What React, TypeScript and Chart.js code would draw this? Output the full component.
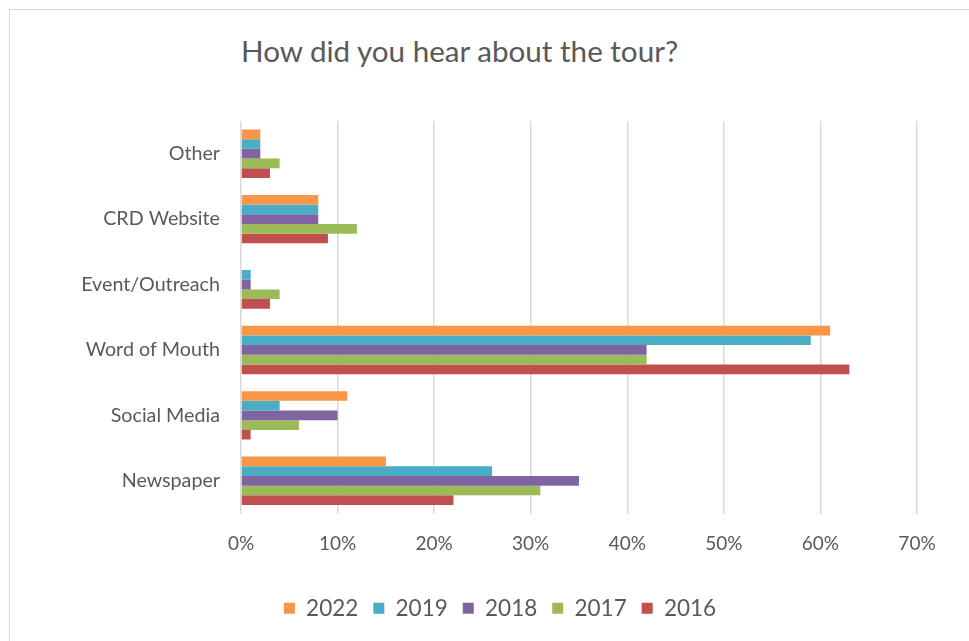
import React, { useEffect, useRef } from "react";
import { Chart, registerables } from "chart.js";

Chart.register(...registerables);

const categories = ["Other", "CRD Website", "Event/Outreach", "Word of Mouth", "Social Media", "Newspaper"];
const seriesNames = ["2022", "2019", "2018", "2017", "2016"];
const values2022 = [2, 8, 0, 61, 11, 15];
const values2019 = [2, 8, 1, 59, 4, 26];
const values2018 = [2, 8, 1, 42, 10, 35];
const values2017 = [4, 12, 4, 42, 6, 31];
const values2016 = [3, 9, 3, 63, 1, 22];
const seriesColors = ["#F79646", "#4BACC6", "#8064A2", "#9BBB59", "#C0504D"];
const xTicks = [0, 10, 20, 30, 40, 50, 60, 70];
const titleText = "How did you hear about the tour?";

const FONT = "Lato, 'Open Sans', sans-serif";
const TEXT = "#595959";

export default function App() {
  const canvasRef = useRef<HTMLCanvasElement | null>(null);

  useEffect(() => {
    document.body.style.margin = "0";
    const canvas = canvasRef.current;
    if (!canvas) return;
    const allValues = [values2022, values2019, values2018, values2017, values2016];
    const chart = new Chart(canvas, {
      type: "bar",
      data: {
        labels: categories,
        datasets: seriesNames.map((name, i) => ({
          label: name,
          data: allValues[i],
          backgroundColor: seriesColors[i],
          borderWidth: 0,
          categoryPercentage: 0.74,
          barPercentage: 1.0,
        })),
      },
      options: {
        indexAxis: "y",
        animation: false,
        responsive: false,
        maintainAspectRatio: false,
        devicePixelRatio: 1,
        layout: { padding: { left: 83, right: 52, top: 121, bottom: 11.5 } },
        scales: {
          x: {
            min: 0,
            max: 70,
            afterBuildTicks: (scale: any) => {
              scale.ticks = xTicks.map((v) => ({ value: v }));
            },
            afterFit: (scale: any) => {
              scale.height = 68.5;
            },
            border: { display: false },
            grid: { color: "#D9D9D9", lineWidth: 1.5, drawTicks: false },
            ticks: {
              padding: 19,
              color: TEXT,
              font: { family: FONT, size: 19 },
              callback: (v: any) => v + "%",
            },
          },
          y: {
            afterFit: (scale: any) => {
              scale.width = 158;
            },
            border: { display: false },
            grid: { display: false, drawTicks: false },
            ticks: {
              padding: 21,
              color: TEXT,
              font: { family: FONT, size: 19.7 },
            },
          },
        },
        plugins: {
          legend: {
            position: "bottom",
            labels: {
              color: TEXT,
              font: { family: FONT, size: 22.5 },
              boxWidth: 11,
              boxHeight: 11,
              padding: 15,
            },
          },
          tooltip: { enabled: false },
          title: { display: false },
        },
      },
    });
    return () => chart.destroy();
  }, []);

  return (
    <div style={{ position: "relative", width: 969, height: 641, background: "#fff", overflow: "hidden", fontFamily: FONT }}>
      <div
        style={{
          position: "absolute",
          left: 9,
          top: 9,
          width: 1000,
          height: 700,
          borderLeft: "1.5px solid #D9D9D9",
          borderTop: "1.5px solid #D9D9D9",
          boxSizing: "border-box",
        }}
      />
      <div
        style={{
          position: "absolute",
          left: 241,
          top: 33,
          fontSize: 29.6,
          color: TEXT,
          whiteSpace: "nowrap",
          lineHeight: "36px",
        }}
      >
        {titleText}
      </div>
      <canvas ref={canvasRef} width={969} height={641} style={{ position: "absolute", left: 0, top: 0 }} />
    </div>
  );
}
